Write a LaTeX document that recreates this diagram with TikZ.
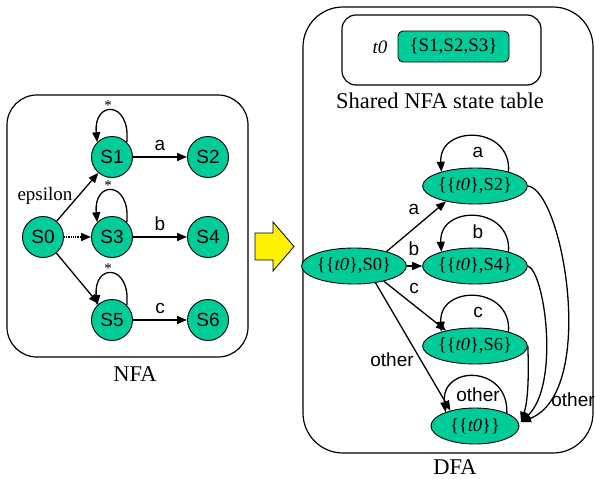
\documentclass[tikz,border=0pt]{standalone}
\usepackage{fontspec}
\setmainfont{Liberation Serif}
\newfontfamily\arialf{Liberation Sans}
\usetikzlibrary{shapes.geometric,arrows.meta,calc}
\definecolor{stgreen}{RGB}{0,204,153}
\begin{document}
\begin{tikzpicture}[x=1pt,y=1pt,
  nst/.style={circle,draw,fill=stgreen,minimum size=41pt,inner sep=0pt,line width=0.9pt,font=\arialf\fontsize{19}{22}\selectfont},
  dst/.style={ellipse,draw,fill=stgreen,minimum width=88pt,minimum height=36pt,inner sep=0pt,line width=0.9pt,font=\fontsize{18.5}{22}\selectfont},
  arr/.style={line width=1.3pt,-{Triangle[length=10pt,width=8pt]}},
  lbl/.style={font=\arialf\fontsize{19}{22}\selectfont,inner sep=0pt},
  tlbl/.style={font=\fontsize{19}{22}\selectfont,inner sep=0pt},
  biglbl/.style={font=\fontsize{22.5}{26}\selectfont,inner sep=0pt},
  star/.style={font=\fontsize{15}{16}\selectfont,inner sep=0pt},
  box/.style={draw,line width=1.2pt}
]
\useasboundingbox (0,0) rectangle (595,-479);
% containers
\draw[box,rounded corners=30pt] (7,-95) rectangle (248,-357);
\node[biglbl] (nfalbl) at (135,-374) {NFA};
\draw[box,rounded corners=40pt] (303,-7) rectangle (593,-453);
\node[biglbl] (dfalbl) at (455,-467) {DFA};
\draw[box,rounded corners=14pt] (342,-15) rectangle (541,-85);
\node[draw,fill=stgreen,rounded corners=5pt,minimum width=111pt,minimum height=31pt,inner sep=0pt,line width=0.9pt,tlbl] (tab) at (453.5,-46.5) {\{S1,S2,S3\}};
\node[tlbl] (t0) at (380,-47) {\textit{t0}};
\node[biglbl] (shared) at (440,-101) {Shared NFA state table};
% yellow arrow
\draw[fill=yellow,line width=0.8pt] (255,-233) -- (273,-233) -- (273,-222) -- (294,-246.5) -- (273,-271) -- (273,-260) -- (255,-260) -- cycle;
% NFA states
\node[nst] (S0) at (43,-237) {S0};
\node[nst] (S1) at (112,-157) {S1};
\node[nst] (S2) at (208,-157) {S2};
\node[nst] (S3) at (112,-237) {S3};
\node[nst] (S4) at (208,-237) {S4};
\node[nst] (S5) at (112,-320) {S5};
\node[nst] (S6) at (208,-320) {S6};
\node[tlbl] (eps) at (45,-196) {epsilon};
\draw[arr] (S0) -- (S1);
\draw[arr,dash pattern=on 1pt off 0.8pt] (S0) -- (S3);
\draw[arr] (S0) -- (S5);
\draw[arr] (S1) -- node[lbl,above=6pt] (la) {a} (S2);
\draw[arr] (S3) -- node[lbl,above=6pt] (lb) {b} (S4);
\draw[arr] (S5) -- node[lbl,above=6pt] (lc) {c} (S6);
\foreach \s in {S1,S3,S5}{
  \draw[arr] (\s.45) .. controls ($(\s.45)+(4,42)$) and ($(\s.135)+(-4,42)$) .. (\s.135);
  \node[star] (st\s) at ($(\s.center)+(-4,51)$) {*};
}
% DFA states
\node[dst] (E0) at (354,-266) {\{\{\textit{t0}\},S0\}};
\node[dst] (E2) at (475,-186) {\{\{\textit{t0}\},S2\}};
\node[dst] (E4) at (475,-266) {\{\{\textit{t0}\},S4\}};
\node[dst] (E6) at (475,-346) {\{\{\textit{t0}\},S6\}};
\node[dst] (Et) at (475,-426) {\{\{\textit{t0}\}\}};
\draw[arr] (E0.24) -- (E2.208);
\draw[arr] (E0) -- (E4);
\draw[arr] (E0.333) -- (E6.152);
\draw[arr] (E0.322) -- (Et.148);
\node[lbl] (da) at (414,-209) {a};
\node[lbl] (db) at (414,-249) {b};
\node[lbl] (dc) at (414,-288) {c};
\node[lbl] (dother) at (392,-360) {other};
% self loops
\foreach \e/\t in {E2/a,E4/b,E6/c}{
  \draw[arr] (\e.23) .. controls ($(\e.23)+(3,47)$) and ($(\e.157)+(-3,47)$) .. (\e.157);
  \node[lbl] (l\e) at ($(\e.center)+(3,34)$) {\t};
}
\draw[arr] (Et.22) .. controls ($(Et.22)+(2,48)$) and ($(Et.155)+(-5,48)$) .. (Et.155);
\node[lbl] (lEt) at (478,-395) {other};
% other transitions to {{t0}}
\coordinate (tin) at (521,-422);
\draw[arr] (E2.east) .. controls (563,-190) and (598,-392) .. (tin);
\draw[arr] (E4.east) .. controls (545,-272) and (560,-385) .. (tin);
\draw[arr] (E6.east) .. controls (528,-352) and (530,-395) .. (tin);
\node[lbl] (oth) at (573,-400) {other};
\end{tikzpicture}
\end{document}
